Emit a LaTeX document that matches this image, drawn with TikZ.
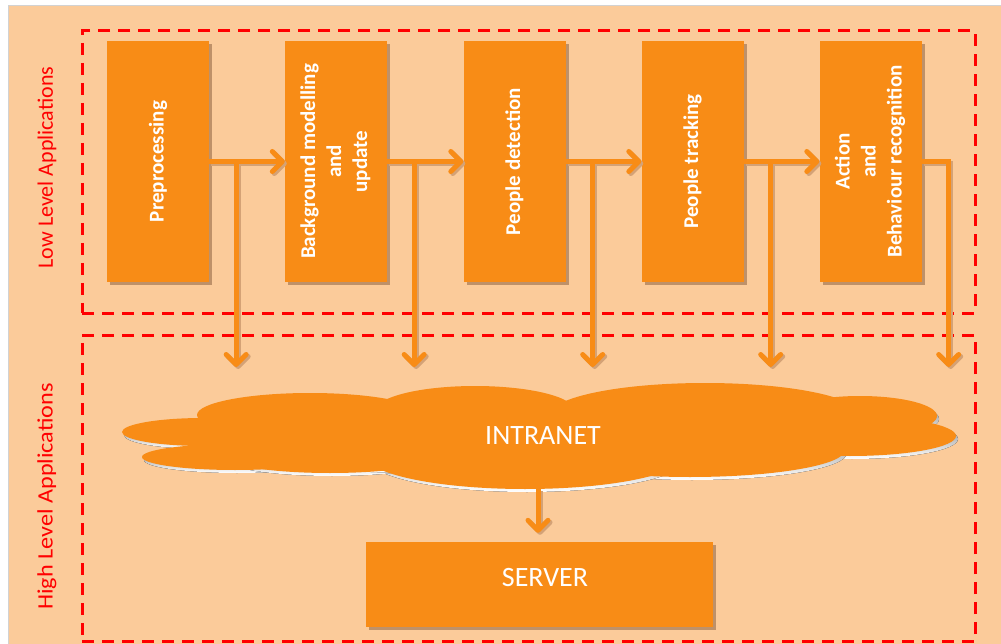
\documentclass[tikz,border=0pt]{standalone}
\usepackage{fontspec}
\setmainfont{Carlito}
\usetikzlibrary{arrows.meta,shadows}
\definecolor{peach}{RGB}{251,203,154}
\definecolor{orng}{RGB}{248,140,22}
\definecolor{shade}{RGB}{190,145,105}
\definecolor{lineshade}{RGB}{212,162,118}
\definecolor{zonered}{RGB}{255,0,0}

\begin{document}
\begin{tikzpicture}[x=1pt,y=-1pt,
  stage/.style={fill=orng, minimum width=102pt, minimum height=241pt, inner sep=0pt,
    text=white, font=\bfseries\fontsize{21}{26}\selectfont,
    drop shadow={shadow xshift=3pt, shadow yshift=-3pt, fill=shade, opacity=1}},
  flow/.style={draw=orng, line width=5pt, -{Straight Barb[length=10pt,width=20pt,round]}},
  flowshadow/.style={flow, draw=lineshade, transform canvas={shift={(2pt,-2pt)}}},
  zone/.style={draw=zonered, line width=3pt, dash pattern=on 12pt off 8pt, inner sep=0pt},
  zonelabel/.style={text=zonered, font=\fontsize{22}{26}\selectfont, inner sep=0pt},
  bigtext/.style={text=white, font=\fontsize{28}{32}\selectfont, inner sep=0pt},
  serverbox/.style={fill=orng, minimum width=347pt, minimum height=85pt, inner sep=0pt,
    drop shadow={shadow xshift=3pt, shadow yshift=-3pt, fill=shade, opacity=1}}
]
\useasboundingbox (0,0) rectangle (1001,644);

% page and panel background
\fill[white] (0,0) rectangle (1001,644);
\fill[peach] (8,6) rectangle (1001,644);
\draw[gray!35, line width=1pt] (8,644) |- (1001,6);

% application levels
\node[zone, minimum width=893pt, minimum height=282pt] (low) at (528.5,172) {};
\node[zone, minimum width=893pt, minimum height=306pt] (high) at (528.5,488) {};
\node[zonelabel] (lowlbl) at (47,167.5) {\rotatebox{90}{Low Level Applications}};
\node[zonelabel] (highlbl) at (47,496.5) {\rotatebox{90}{\scalebox{1.1}[1]{High Level Applications}}};

% processing stages
\node[stage] (pre) at (158,161.5) {\rotatebox{90}{Preprocessing}};
\node[stage] (bg)  at (336,161.5) {\rotatebox{90}{\begin{tabular}{@{}c@{}}Background modelling\\and\\update\end{tabular}}};
\node[stage] (det) at (514.5,161.5) {\rotatebox{90}{People detection}};
\node[stage] (trk) at (692.5,161.5) {\rotatebox{90}{People tracking}};
\node[stage] (act) at (870.5,161.5) {\rotatebox{90}{\begin{tabular}{@{}c@{}}Action\\and\\Behaviour recognition\end{tabular}}};

% branch points and arrow ends
\coordinate (tips) at (0,367);
\coordinate (b1) at ([xshift=27pt]pre.east);
\coordinate (b2) at ([xshift=27pt]bg.east);
\coordinate (b3) at ([xshift=27pt]det.east);
\coordinate (b4) at ([xshift=27pt]trk.east);
\coordinate (b5) at ([xshift=27pt]act.east);
\foreach \i in {1,...,5} \coordinate (t\i) at (b\i |- tips);

% all pipeline arrows, drawn once per style (shadow pass, then colour pass)
\newcommand\pipeline[1]{%
  \draw[#1] (pre) -- (bg);
  \draw[#1] (bg) -- (det);
  \draw[#1] (det) -- (trk);
  \draw[#1] (trk) -- (act);
  \foreach \i in {1,...,4} \draw[#1] (b\i) -- (t\i);
  \draw[#1] (act.east) -| (t5);
}
\pipeline{flowshadow}
\pipeline{flow}

% intranet cloud
\def\lobes{203/432/81/14, 235/457/93/13, 310/415/113/22, 475/411/100/25,
  705/415/155/32, 860/416/77/20, 850/436/106/20, 690/450/155/27,
  525/455/160/34, 330/455/110/18, 420/440/200/30}
\foreach \cx/\cy/\rx/\ry in \lobes
  \fill[shade] (\cx+2,\cy+3) ellipse [x radius=\rx, y radius=\ry];
\foreach \cx/\cy/\rx/\ry in \lobes
  \fill[orng] (\cx,\cy) ellipse [x radius=\rx, y radius=\ry];
\node[bigtext] (net) at (543,436) {INTRANET};

% server
\node[serverbox] (srv) at (539.5,584.5) {};
\node[bigtext] (srvtxt) at (545,578) {SERVER};
\coordinate (cb) at (538,489);
\draw[flowshadow, shorten >=9pt] (cb) -- (cb |- srv.north);
\draw[flow, shorten >=9pt] (cb) -- (cb |- srv.north);
\end{tikzpicture}
\end{document}
